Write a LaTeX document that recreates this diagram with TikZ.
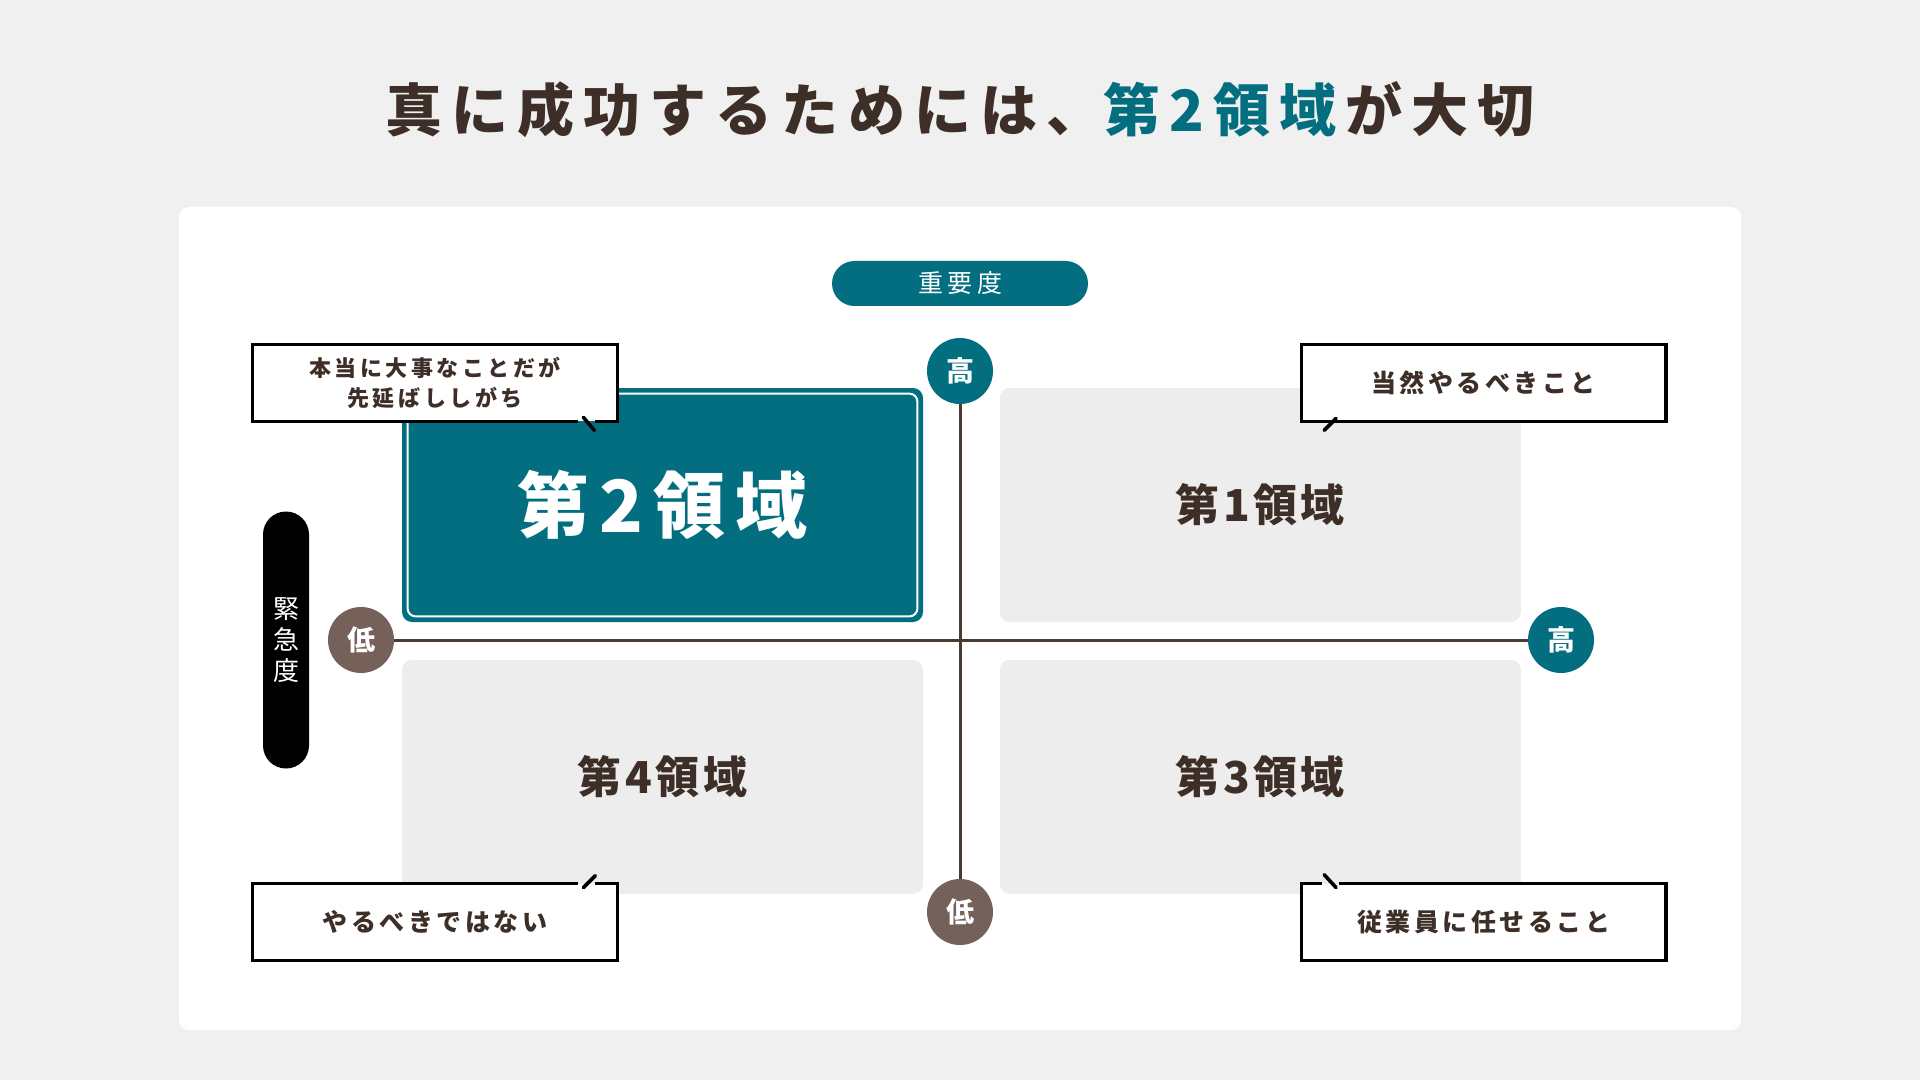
\documentclass[tikz,border=0pt]{standalone}
\usepackage{fontspec}
\setmainfont{Noto Sans CJK JP}
\usetikzlibrary{positioning,calc}

\definecolor{bggray}{HTML}{F0F0F0}
\definecolor{mainteal}{HTML}{036E7F}
\definecolor{txtbrown}{HTML}{3D2F27}
\definecolor{lowbrown}{HTML}{76605A}
\definecolor{quadgray}{HTML}{EDEDED}
\definecolor{axisbrown}{HTML}{4A3B32}

\tikzset{
  quad/.style={fill=quadgray,rounded corners=5pt,minimum width=260.5pt,minimum height=117pt,inner sep=0pt,
    text=txtbrown,font=\bfseries\fontsize{22}{26}\selectfont\addfontfeature{LetterSpace=8}},
  dot/.style={circle,minimum size=33pt,inner sep=0pt,text=white,font=\bfseries\fontsize{14}{16}\selectfont},
  pill/.style={inner sep=0pt,text=white,font=\fontsize{12.5}{15.5}\selectfont\addfontfeature{LetterSpace=18}},
  callout/.style={fill=white,minimum width=182pt,minimum height=38pt,inner sep=0pt,text=txtbrown,align=center,
    font=\bfseries\fontsize{12.5}{15}\selectfont\addfontfeature{LetterSpace=14}},
  boxline/.style={line width=1.6pt,line join=miter},
  tailline/.style={line width=1.8pt,line cap=round},
  axis/.style={axisbrown,line width=1.5pt}
}

\begin{document}
\begin{tikzpicture}[x=0.5pt,y=-0.5pt]
\useasboundingbox[fill=bggray] (0,0) rectangle (1920,1080);
\fill[white,rounded corners=5pt] (179,207) rectangle (1741,1030);

% title
\node[text=txtbrown,font=\bfseries\fontsize{28.5}{32}\selectfont\addfontfeature{LetterSpace=16}] (title) at (960,110)
  {真に成功するためには、\textcolor{mainteal}{第2領域}\kern0.16em が大切};

% quadrants
\node[quad,fill=mainteal,text=white,font=\bfseries\fontsize{36}{40}\selectfont\addfontfeature{LetterSpace=14}] (q2) at (662.5,505) {第2領域};
\draw[white,line width=1pt,rounded corners=4pt] ($(q2.north west)+(6,6)$) rectangle ($(q2.south east)+(-6,-6)$);
\node[quad,right=38pt of q2] (q1) {第1領域};
\node[quad,below=18.5pt of q2] (q4) {第4領域};
\node[quad,below=18.5pt of q1] (q3) {第3領域};

% axes
\node[dot,fill=mainteal] (topHi) at (960,371) {高};
\node[dot,fill=lowbrown] (botLo) at (960,912) {低};
\node[dot,fill=lowbrown] (leftLo) at (361,640) {低};
\node[dot,fill=mainteal] (rightHi) at (1561,640) {高};
\draw[axis] (topHi) -- (botLo);
\draw[axis] (leftLo) -- (rightHi);

\node[pill,fill=mainteal,rounded corners=11.25pt,minimum width=128pt,minimum height=22.5pt] (imp) at (960,283.5) {重要度};
\node[pill,fill=black,rounded corners=11.5pt,minimum width=23pt,minimum height=128.5pt,align=center,
  font=\fontsize{13}{15.5}\selectfont] (urg) at (286,640) {緊\\急\\度};

% callouts
\node[callout,font=\bfseries\fontsize{11}{15}\selectfont\addfontfeature{LetterSpace=16}] (c2) at (435,383) {本当に大事なことだが\\先延ばししがち};
\node[callout] (c1) at (1483.5,383) {当然やるべきこと};
\node[callout] (c4) at (435,922) {やるべきではない};
\node[callout] (c3) at (1483.5,922) {従業員に任せること};

\draw[boxline] ($(c2.south east)+(-22,0)$) -| (c2.north east) -- (c2.north west) -- (c2.south west) -- ($(c2.south east)+(-39,0)$);
\draw[tailline] ($(c2.south east)+(-34,-4)$) -- ($(c2.south east)+(-23,9)$);
\draw[boxline] ($(c1.south west)+(38,0)$) -| (c1.north west) -- (c1.north east) -- (c1.south east) -- ($(c1.south west)+(23,0)$);
\draw[tailline] ($(c1.south west)+(35,-3)$) -- ($(c1.south west)+(23,9)$);
\draw[boxline] ($(c4.north east)+(-22,0)$) -| (c4.south east) -- (c4.south west) -- (c4.north west) -- ($(c4.north east)+(-39,0)$);
\draw[tailline] ($(c4.north east)+(-34,4)$) -- ($(c4.north east)+(-22,-8)$);
\draw[boxline] ($(c3.north west)+(38,0)$) -| (c3.north east) -- (c3.south east) -- (c3.south west) -- (c3.north west) -- ($(c3.north west)+(21,0)$);
\draw[tailline] ($(c3.north west)+(23,-9)$) -- ($(c3.north west)+(35,4)$);
\end{tikzpicture}
\end{document}
